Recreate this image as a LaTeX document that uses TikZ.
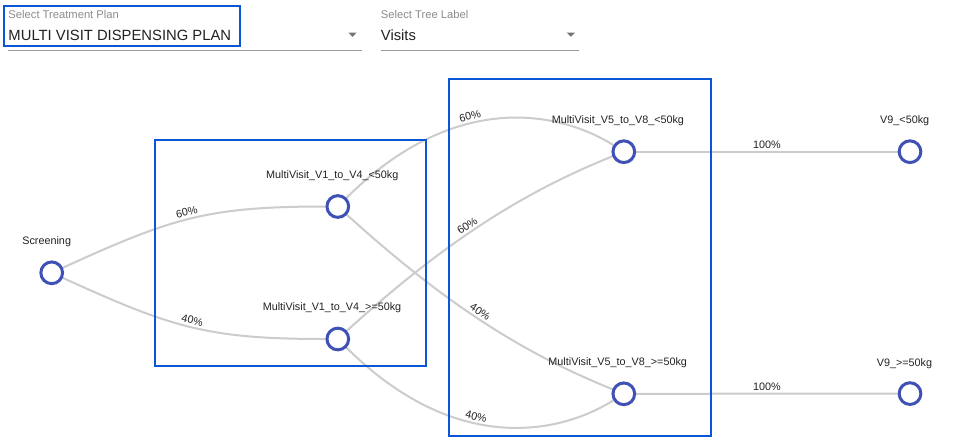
\documentclass[tikz,border=0pt]{standalone}
\usepackage{fontspec}
\setmainfont{Liberation Sans}
\usetikzlibrary{backgrounds}
\definecolor{boxblue}{RGB}{10,86,214}
\definecolor{nodeblue}{RGB}{63,81,181}
\definecolor{edgegray}{RGB}{204,204,204}
\definecolor{txtcol}{RGB}{34,34,34}
\definecolor{hintgray}{RGB}{140,140,140}
\definecolor{linegray}{RGB}{155,155,155}
\definecolor{arrowgray}{RGB}{117,117,117}
\begin{document}
\begin{tikzpicture}[x=1pt,y=-1pt,
  stnode/.style={circle,draw=nodeblue,fill=white,line width=3pt,minimum size=21.7pt,inner sep=0pt},
  vlabel/.style={font=\fontsize{10.8}{13}\selectfont,text=txtcol,anchor=base,inner sep=0pt},
  edgeline/.style={draw=edgegray,line width=2pt},
  pct/.style={font=\fontsize{10.8}{13}\selectfont,text=txtcol,sloped,anchor=south,inner sep=2.2pt},
  groupbox/.style={draw=boxblue,line width=2pt},
  hint/.style={font=\fontsize{11.2}{13}\selectfont,text=hintgray,anchor=base west,inner sep=0pt},
  selval/.style={font=\fontsize{14.8}{17}\selectfont,text=txtcol,anchor=base west,inner sep=0pt},
  underline/.style={draw=linegray,line width=1pt},
  dropcaret/.style={fill=arrowgray}
]
\useasboundingbox (0,0) rectangle (968,445);

% ---- dropdowns ----
\node[hint] (hintA) at (8.3,18.3) {Select Treatment Plan};
\node[selval] (valA) at (8.3,40.7) {MULTI VISIT DISPENSING PLAN};
\coordinate (ulAa) at (8,50.5);
\coordinate (ulAb) at (362,50.5);
\draw[underline] (ulAa) -- (ulAb);
\fill[dropcaret] (348.3,32.5) -- (356.7,32.5) -- (352.5,36.8) -- cycle;
\draw[groupbox] (3.7,6.3) rectangle (239.7,45.7);

\node[hint] (hintB) at (380.7,18.3) {Select Tree Label};
\node[selval] (valB) at (380.7,40.7) {Visits};
\coordinate (ulBa) at (381,50.5);
\coordinate (ulBb) at (579,50.5);
\draw[underline] (ulBa) -- (ulBb);
\fill[dropcaret] (566.7,32.5) -- (575.1,32.5) -- (570.9,36.8) -- cycle;

% ---- tree nodes ----
\node[stnode] (scr) at (51.7,272.8) {};
\node[stnode] (va) at (337.8,206.5) {};
\node[stnode] (vb) at (337.8,339) {};
\node[stnode] (wa) at (623.8,151.7) {};
\node[stnode] (wb) at (623.8,393.8) {};
\node[stnode] (za) at (910,151.7) {};
\node[stnode] (zb) at (910,393.6) {};

\node[vlabel] (scrL) at (46.7,244.4) {Screening};
\node[vlabel] (vaL) at (332.3,178.2) {MultiVisit\_V1\_to\_V4\_<50kg};
\node[vlabel] (vbL) at (332.0,310.0) {MultiVisit\_V1\_to\_V4\_>=50kg};
\node[vlabel] (waL) at (617.9,123.4) {MultiVisit\_V5\_to\_V8\_<50kg};
\node[vlabel] (wbL) at (617.7,365.4) {MultiVisit\_V5\_to\_V8\_>=50kg};
\node[vlabel] (zaL) at (904.7,123.7) {V9\_<50kg};
\node[vlabel] (zbL) at (904.5,366.0) {V9\_>=50kg};

% ---- connectors ----
\begin{scope}[on background layer]
\fill[white] (0,0) rectangle (968,445);
\draw[edgeline] (scr) .. controls (172,218) and (207,206.5) .. node[pct,pos=0.49] {60\%} (va);
\draw[edgeline] (scr) .. controls (172,327.6) and (207,339) .. node[pct,pos=0.5] {40\%} (vb);
\draw[edgeline] (va) .. controls (455,90) and (559,111) .. node[pct,pos=0.4] {60\%} (wa);
\draw[edgeline] (vb) .. controls (447,240) and (524,192) .. node[pct,pos=0.45] {60\%} (wa);
\draw[edgeline] (va) .. controls (447,305.5) and (524,353.5) .. node[pct,pos=0.47] {40\%} (wb);
\draw[edgeline] (vb) .. controls (455,455.5) and (559,434.5) .. node[pct,pos=0.41] {40\%} (wb);
\draw[edgeline] (wa) -- node[pct,pos=0.5] {100\%} (za);
\draw[edgeline] (wb) -- node[pct,pos=0.5] {100\%} (zb);
\end{scope}

% ---- group boxes ----
\draw[groupbox] (155.3,140.3) rectangle (425.7,366.3);
\draw[groupbox] (449,78.5) rectangle (711,436.2);
\end{tikzpicture}
\end{document}
